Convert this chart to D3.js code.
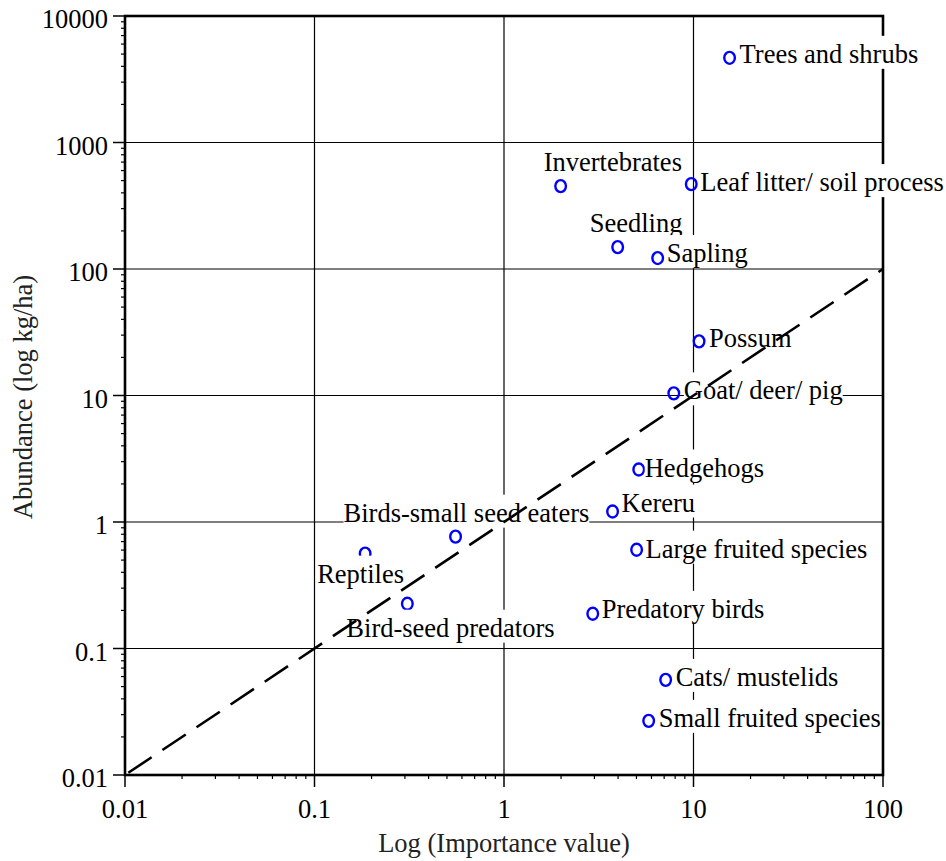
<!DOCTYPE html>
<html>
<head>
<meta charset="utf-8">
<script src="https://cdn.jsdelivr.net/npm/d3@7"></script>
<style>
  html, body { margin: 0; padding: 0; background: #fff; }
  svg { display: block; font-family: 'Liberation Serif', 'Times New Roman', serif; }
</style>
</head>
<body>
<div id="chart"></div>
<script>
// values
const groups = [
  'Trees and shrubs', 'Invertebrates', 'Leaf litter/ soil process', 'Seedling',
  'Sapling', 'Possum', 'Goat/ deer/ pig', 'Hedgehogs', 'Kereru',
  'Large fruited species', 'Predatory birds', 'Cats/ mustelids',
  'Small fruited species', 'Birds-small seed eaters', 'Reptiles',
  'Bird-seed predators'
]
const importance = [15.5, 1.99, 9.73, 3.98, 6.47, 10.7, 7.87, 5.14, 3.74, 5.01, 2.94, 7.13, 5.8, 0.555, 0.185, 0.309]
const abundance = [4670, 452, 469, 149, 122, 26.8, 10.4, 2.6, 1.21, 0.604, 0.188, 0.0565, 0.0268, 0.766, 0.562, 0.226]

const xTicks = [0.01, 0.1, 1, 10, 100]
const xTickLabels = ['0.01', '0.1', '1', '10', '100']
const yTicks = [0.01, 0.1, 1, 10, 100, 1000, 10000]
const yTickLabels = ['0.01', '0.1', '1', '10', '100', '1000', '10000']

// 1:1 reference line
const oneToOne = [0.01, 100]

// where each label sits against its point (pixels), default is to the right
const labelNudge = {
  'Trees and shrubs': [10, 5],
  'Invertebrates': [-17, -15],
  'Leaf litter/ soil process': [9, 7],
  'Seedling': [-28, -15],
  'Sapling': [9, 4],
  'Kereru': [9, 0],
  'Hedgehogs': [6, 7],
  'Large fruited species': [9, 8],
  'Predatory birds': [9, 4],
  'Birds-small seed eaters': [-112, -15],
  'Reptiles': [-48, 29],
  'Bird-seed predators': [-61, 33]
}

const width = 946
const height = 861
const margin = {top: 16, right: 63, bottom: 86, left: 125}
const fontSize = 26.5

const svg = d3
  .select('#chart')
  .append('svg')
  .attr('width', width)
  .attr('height', height)

const x = d3
  .scaleLog()
  .domain([0.01, 100])
  .range([margin.left, width - margin.right])
const y = d3
  .scaleLog()
  .domain([0.01, 10000])
  .range([height - margin.bottom, margin.top])

const x0 = x.range()[0]
const x1 = x.range()[1]
const y0 = y.range()[0]
const y1 = y.range()[1]

//grid lines
const grid = svg.append('g').attr('class', 'grid')
grid
  .selectAll('.vgrid')
  .data(xTicks)
  .enter()
  .append('line')
  .attr('x1', d => x(d))
  .attr('x2', d => x(d))
  .attr('y1', y1)
  .attr('y2', y0)
  .attr('stroke', '#000')
  .attr('stroke-width', 1.2)
grid
  .selectAll('.hgrid')
  .data(yTicks)
  .enter()
  .append('line')
  .attr('x1', x0)
  .attr('x2', x1)
  .attr('y1', d => y(d))
  .attr('y2', d => y(d))
  .attr('stroke', '#000')
  .attr('stroke-width', 1.2)

//ticks, major and minor
const ticks = svg.append('g').attr('class', 'ticks')
const xMinor = x.ticks().filter(d => !xTicks.includes(d))
const yMinor = y.ticks().filter(d => !yTicks.includes(d))
ticks
  .selectAll('.xmajor')
  .data(xTicks)
  .enter()
  .append('line')
  .attr('x1', d => x(d))
  .attr('x2', d => x(d))
  .attr('y1', y0)
  .attr('y2', y0 + 12)
  .attr('stroke', '#000')
  .attr('stroke-width', 1.5)
ticks
  .selectAll('.xminor')
  .data(xMinor)
  .enter()
  .append('line')
  .attr('x1', d => x(d))
  .attr('x2', d => x(d))
  .attr('y1', y0)
  .attr('y2', y0 + 4)
  .attr('stroke', '#000')
  .attr('stroke-width', 1.2)
ticks
  .selectAll('.ymajor')
  .data(yTicks)
  .enter()
  .append('line')
  .attr('x1', x0 - 12)
  .attr('x2', x0)
  .attr('y1', d => y(d))
  .attr('y2', d => y(d))
  .attr('stroke', '#000')
  .attr('stroke-width', 1.5)
ticks
  .selectAll('.yminor')
  .data(yMinor)
  .enter()
  .append('line')
  .attr('x1', x0 - 4)
  .attr('x2', x0)
  .attr('y1', d => y(d))
  .attr('y2', d => y(d))
  .attr('stroke', '#000')
  .attr('stroke-width', 1.2)

//tick labels
svg
  .append('g')
  .selectAll('text')
  .data(xTicks)
  .enter()
  .append('text')
  .attr('x', d => x(d))
  .attr('y', y0 + 43)
  .attr('text-anchor', 'middle')
  .attr('font-size', fontSize)
  .text((d, i) => xTickLabels[i])
svg
  .append('g')
  .selectAll('text')
  .data(yTicks)
  .enter()
  .append('text')
  .attr('x', x0 - 17)
  .attr('y', d => y(d) + 12)
  .attr('text-anchor', 'end')
  .attr('font-size', fontSize)
  .text((d, i) => yTickLabels[i])

//frame
svg
  .append('rect')
  .attr('x', x0)
  .attr('y', y1)
  .attr('width', x1 - x0)
  .attr('height', y0 - y1)
  .attr('fill', 'none')
  .attr('stroke', '#000')
  .attr('stroke-width', 2.6)

//axis titles
svg
  .append('text')
  .attr('x', (x0 + x1) / 2)
  .attr('y', 852)
  .attr('text-anchor', 'middle')
  .attr('font-size', fontSize)
  .attr('fill', '#222')
  .text('Log (Importance value)')
svg
  .append('text')
  .attr('transform', 'translate(32,397) rotate(-90)')
  .attr('text-anchor', 'middle')
  .attr('font-size', fontSize)
  .attr('fill', '#222')
  .text('Abundance (log kg/ha)')

const points = groups.map((name, i) => ({
  name,
  importance: importance[i],
  abundance: abundance[i]
}))

//markers
svg
  .append('g')
  .attr('class', 'points')
  .selectAll('ellipse')
  .data(points)
  .enter()
  .append('ellipse')
  .attr('cx', d => x(d.importance))
  .attr('cy', d => y(d.abundance))
  .attr('rx', 5.3)
  .attr('ry', 6)
  .attr('fill', 'none')
  .attr('stroke', '#0000ff')
  .attr('stroke-width', 2.4)

//labels with a white box behind them
const labels = svg
  .append('g')
  .attr('class', 'labels')
  .selectAll('g')
  .data(points)
  .enter()
  .append('g')
  .attr('transform', d => {
    const nudge = labelNudge[d.name] || [10, 6]
    return `translate(${x(d.importance) + nudge[0]},${y(d.abundance) + nudge[1]})`
  })

labels
  .append('text')
  .attr('font-size', fontSize)
  .attr('fill', '#000')
  .text(d => d.name)

labels.each(function() {
  const g = d3.select(this)
  const box = g.select('text').node().getBBox()
  g
    .insert('rect', 'text')
    .attr('x', box.x)
    .attr('y', -27)
    .attr('width', box.width)
    .attr('height', 33)
    .attr('fill', '#fff')
})

//dashed 1:1 line on top
svg
  .append('line')
  .attr('x1', x(oneToOne[0]))
  .attr('y1', y(oneToOne[0]))
  .attr('x2', x(oneToOne[1]))
  .attr('y2', y(oneToOne[1]))
  .attr('stroke', '#000')
  .attr('stroke-width', 2.6)
  .attr('stroke-dasharray', '28,13')
  .attr('stroke-dashoffset', -4)
</script>
</body>
</html>
